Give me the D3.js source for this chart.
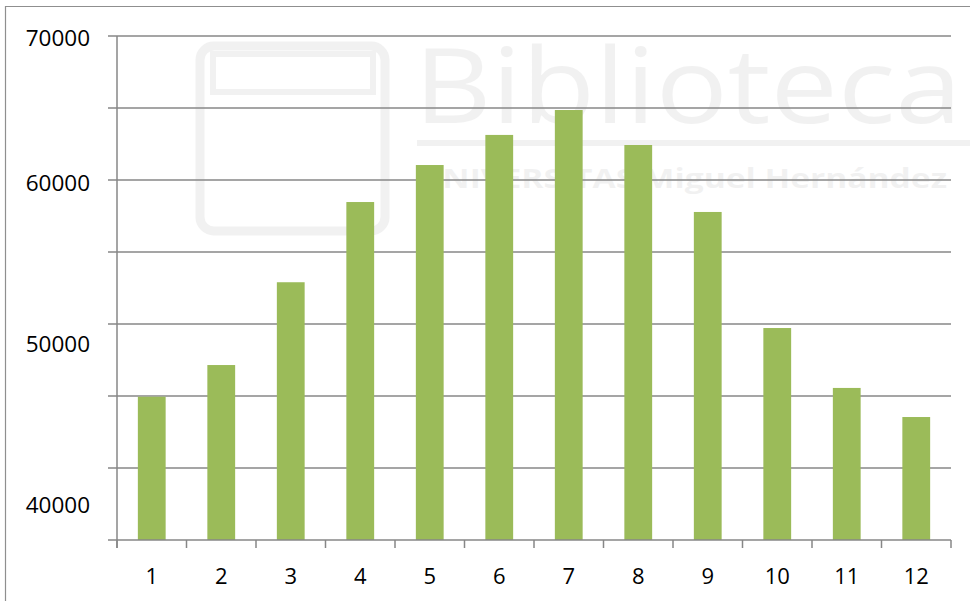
<!DOCTYPE html>
<html>
<head>
<meta charset="utf-8">
<script src="https://cdn.jsdelivr.net/npm/d3@7"></script>
<style>
  html, body { margin: 0; padding: 0; background: #fff; }
  svg { display: block; }
  text { font-family: "Open Sans", "Liberation Sans", sans-serif; fill: #000; }
</style>
</head>
<body>
<svg id="chart" width="970" height="601"></svg>
<script>
// Monthly values (months 1–12)
const months = ["1", "2", "3", "4", "5", "6", "7", "8", "9", "10", "11", "12"];
const values = [44950, 47150, 52900, 58470, 61040, 63130, 64860, 62430, 57780, 49720, 45560, 43540];
const gridValues = [40000, 45000, 50000, 55000, 60000, 65000, 70000];
const yTickLabels = [40000, 50000, 60000, 70000];

const W = 970, H = 601;
const plot = { left: 117, right: 951, top: 36, bottom: 540 };

const svg = d3.select("#chart");

const x = d3.scaleBand()
  .domain(months)
  .range([plot.left, plot.right])
  .paddingInner(0.6)
  .paddingOuter(0.3);

const y = d3.scaleLinear()
  .domain([35000, 70000])
  .range([plot.bottom, plot.top]);

// the value labels sit at their own spacing along the axis
const labelY = d3.scaleLinear()
  .domain(yTickLabels)
  .range([505, 344, 183, 38]);

// faint library stamp, drawn first so the chart sits over it
const stamp = svg.append("g")
  .attr("pointer-events", "none")
  .attr("opacity", 0.05);
stamp.append("rect")
  .attr("x", 200).attr("y", 46).attr("width", 185).attr("height", 185)
  .attr("rx", 14)
  .attr("fill", "none").attr("stroke", "#000").attr("stroke-width", 9);
stamp.append("rect")
  .attr("x", 213).attr("y", 54).attr("width", 160).attr("height", 38)
  .attr("fill", "none").attr("stroke", "#000").attr("stroke-width", 6);
stamp.append("text")
  .attr("x", 414).attr("y", 123)
  .attr("font-family", "Open Sans, sans-serif")
  .attr("font-size", 105)
  .attr("textLength", 548)
  .attr("lengthAdjust", "spacingAndGlyphs")
  .style("fill", "#000")
  .text("Biblioteca");
stamp.append("rect")
  .attr("x", 417).attr("y", 140).attr("width", 553).attr("height", 6)
  .attr("fill", "#000");
stamp.append("text")
  .attr("x", 417).attr("y", 188)
  .attr("font-family", "DejaVu Serif, serif")
  .attr("font-weight", "bold")
  .attr("font-size", 26)
  .attr("textLength", 530)
  .attr("lengthAdjust", "spacingAndGlyphs")
  .style("fill", "#000")
  .text("UNIVERSITAS Miguel Hernández");

// outer frame (left and top edges)
svg.append("path")
  .attr("d", `M5.5,${H} L5.5,6.5 L${W},6.5`)
  .attr("fill", "none")
  .attr("stroke", "#8f8f8f")
  .attr("stroke-width", 1.2);

// horizontal gridlines with outward tick stubs
svg.append("g")
  .selectAll("line")
  .data(gridValues)
  .join("line")
  .attr("x1", plot.left - 9)
  .attr("x2", plot.right)
  .attr("y1", d => y(d))
  .attr("y2", d => y(d))
  .attr("stroke", "#878787")
  .attr("stroke-width", 1.5);

// bars
svg.append("g")
  .selectAll("rect")
  .data(values)
  .join("rect")
  .attr("x", (d, i) => x(months[i]))
  .attr("width", x.bandwidth())
  .attr("y", d => y(d))
  .attr("height", d => y(35000) - y(d))
  .attr("fill", "#9bbb59");

// category axis: baseline, boundary ticks and labels
const step = x.step();
const boundaries = d3.range(months.length + 1).map(i => plot.left + i * step);
const xAxis = svg.append("g");
xAxis.append("line")
  .attr("x1", plot.left - 9).attr("x2", plot.right)
  .attr("y1", y(35000)).attr("y2", y(35000))
  .attr("stroke", "#878787").attr("stroke-width", 1.5);
xAxis.selectAll("line.tick")
  .data(boundaries)
  .join("line")
  .attr("class", "tick")
  .attr("x1", d => d).attr("x2", d => d)
  .attr("y1", y(35000)).attr("y2", y(35000) + 8)
  .attr("stroke", "#878787").attr("stroke-width", 1.5);
xAxis.selectAll("text")
  .data(months)
  .join("text")
  .attr("x", d => x(d) + x.bandwidth() / 2)
  .attr("y", 576)
  .attr("dy", "0.35em")
  .attr("text-anchor", "middle")
  .attr("font-size", 22)
  .text(d => d);

// value axis line
svg.append("line")
  .attr("x1", plot.left).attr("x2", plot.left)
  .attr("y1", plot.top).attr("y2", plot.bottom + 8)
  .attr("stroke", "#878787").attr("stroke-width", 1.5);

// value axis labels
svg.append("g")
  .selectAll("text")
  .data(yTickLabels)
  .join("text")
  .attr("x", 90)
  .attr("y", d => labelY(d))
  .attr("dy", "0.35em")
  .attr("text-anchor", "end")
  .attr("font-size", 22.5)
  .text(d => d);
</script>
</body>
</html>
